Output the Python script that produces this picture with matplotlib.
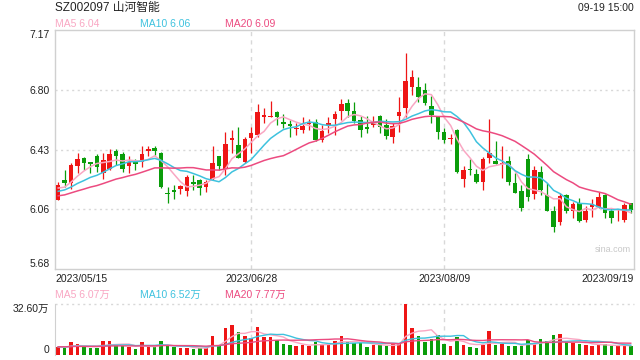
import numpy as np
import pandas as pd
import matplotlib
matplotlib.use("Agg")
import matplotlib.pyplot as plt

plt.rcParams['font.family'] = ['Liberation Sans', 'Noto Sans CJK SC']

title = "SZ002097 山河智能"
stamp = "09-19 15:00"
date_labels = ["2023/05/15", "2023/06/28", "2023/08/09", "2023/09/19"]
date_index = [0, 30, 60, 89]

price_ticks = ["5.68", "6.06", "6.43", "6.80", "7.17"]
vol_ticks = ["0", "32.60万"]
ma_labels = ["MA5 6.04", "MA10 6.06", "MA20 6.09"]
vol_ma_labels = ["MA5 6.07万", "MA10 6.52万", "MA20 7.77万"]

opens = [6.112, 6.235, 6.218, 6.324, 6.374, 6.347, 6.385, 6.281, 6.303, 6.416,
         6.397, 6.324, 6.351, 6.349, 6.418, 6.434, 6.401, 6.154, 6.173, 6.177,
         6.168, 6.222, 6.235, 6.193, 6.239, 6.385, 6.301, 6.486, 6.453, 6.349,
         6.497, 6.518, 6.628, 6.630, 6.661, 6.596, 6.584, 6.555, 6.547, 6.582,
         6.596, 6.484, 6.580, 6.613, 6.667, 6.717, 6.665, 6.609, 6.563, 6.580,
         6.632, 6.578, 6.505, 6.634, 6.682, 6.817, 6.813, 6.796, 6.696, 6.634,
         6.534, 6.493, 6.547, 6.239, 6.306, 6.272, 6.224, 6.374, 6.351, 6.335,
         6.351, 6.214, 6.166, 6.364, 6.146, 6.285, 6.141, 6.042, 5.975, 6.141,
         6.044, 6.094, 5.985, 6.064, 6.069, 6.141, 6.044, 5.995, 5.986, 6.089]
closes = [6.204, 6.218, 6.328, 6.366, 6.339, 6.337, 6.318, 6.360, 6.397, 6.385,
          6.306, 6.349, 6.335, 6.397, 6.430, 6.418, 6.193, 6.150, 6.162, 6.198,
          6.256, 6.212, 6.187, 6.220, 6.339, 6.322, 6.459, 6.497, 6.374, 6.490,
          6.528, 6.659, 6.638, 6.634, 6.626, 6.584, 6.574, 6.559, 6.572, 6.590,
          6.484, 6.540, 6.588, 6.646, 6.709, 6.667, 6.605, 6.547, 6.555, 6.590,
          6.567, 6.509, 6.574, 6.661, 6.852, 6.875, 6.754, 6.717, 6.638, 6.536,
          6.484, 6.499, 6.287, 6.297, 6.299, 6.224, 6.366, 6.401, 6.337, 6.343,
          6.224, 6.156, 6.058, 6.127, 6.297, 6.173, 6.044, 5.944, 6.135, 6.044,
          6.085, 5.981, 6.044, 6.085, 6.131, 6.031, 5.996, 5.999, 6.079, 6.048]
highs = [6.224, 6.297, 6.343, 6.405, 6.380, 6.347, 6.395, 6.405, 6.426, 6.426,
         6.411, 6.385, 6.364, 6.447, 6.447, 6.447, 6.411, 6.193, 6.202, 6.202,
         6.266, 6.266, 6.239, 6.235, 6.447, 6.385, 6.536, 6.547, 6.563, 6.505,
         6.567, 6.709, 6.686, 6.727, 6.667, 6.646, 6.609, 6.588, 6.626, 6.615,
         6.613, 6.578, 6.626, 6.667, 6.738, 6.738, 6.721, 6.634, 6.634, 6.634,
         6.640, 6.613, 6.592, 6.754, 7.029, 6.921, 6.879, 6.842, 6.759, 6.634,
         6.557, 6.522, 6.551, 6.322, 6.364, 6.301, 6.376, 6.615, 6.478, 6.447,
         6.385, 6.276, 6.204, 6.397, 6.322, 6.322, 6.214, 6.073, 6.152, 6.148,
         6.100, 6.121, 6.073, 6.114, 6.162, 6.148, 6.058, 6.052, 6.094, 6.094]
lows = [6.110, 6.193, 6.177, 6.276, 6.297, 6.276, 6.287, 6.239, 6.297, 6.328,
        6.287, 6.276, 6.297, 6.314, 6.385, 6.391, 6.183, 6.094, 6.114, 6.148,
        6.135, 6.173, 6.141, 6.162, 6.235, 6.297, 6.266, 6.401, 6.374, 6.343,
        6.405, 6.505, 6.588, 6.626, 6.578, 6.557, 6.505, 6.515, 6.526, 6.547,
        6.480, 6.474, 6.526, 6.515, 6.609, 6.630, 6.588, 6.505, 6.526, 6.563,
        6.530, 6.492, 6.468, 6.536, 6.630, 6.765, 6.723, 6.702, 6.588, 6.488,
        6.468, 6.459, 6.276, 6.193, 6.266, 6.214, 6.173, 6.343, 6.335, 6.245,
        6.204, 6.152, 6.044, 6.106, 6.114, 6.141, 6.044, 5.913, 5.954, 6.031,
        5.996, 5.975, 5.975, 6.006, 6.058, 5.996, 5.965, 5.981, 5.975, 6.027]
# volume in 万
volumes = [4.9, 4.3, 8.5, 7.0, 4.9, 4.7, 4.7, 8.9, 8.9, 6.4,
           5.8, 4.9, 3.8, 8.3, 4.9, 4.9, 8.9, 6.0, 4.9, 4.7,
           4.7, 3.8, 4.3, 4.3, 12.1, 5.8, 17.3, 19.2, 14.7, 12.1,
           11.1, 17.9, 11.7, 11.5, 9.4, 7.0, 6.4, 5.8, 6.4, 5.8,
           8.5, 6.4, 6.4, 8.9, 12.1, 8.3, 7.5, 7.9, 4.9, 6.4,
           6.4, 6.0, 7.0, 7.0, 32.6, 17.3, 12.1, 8.5, 10.2, 12.6,
           7.0, 5.8, 11.5, 6.4, 4.9, 4.7, 6.4, 15.3, 6.4, 7.0,
           5.8, 5.8, 5.8, 9.4, 7.0, 10.2, 8.9, 12.8, 13.4, 8.3,
           7.9, 7.0, 6.4, 5.8, 6.4, 6.8, 5.8, 5.5, 6.0, 5.6]

# days before 05/15, estimated so the moving averages start where they do
prior_closes = [6.10, 6.08, 6.12, 6.11, 6.09, 6.13, 6.10, 6.12, 6.11, 6.12,
                6.13, 6.15, 6.14, 6.16, 6.14, 6.19, 6.17, 6.18, 6.18]
prior_volumes = [5.2, 5.4, 5.0, 5.6, 5.3, 5.1, 5.5, 5.2, 5.4, 5.3,
                 5.0, 5.6, 5.2, 5.4, 5.1, 5.5, 5.3, 5.2, 5.4]

RED = "#ee1515"
GREEN = "#0a9d0a"
MA_COLORS = ["#f9a7c3", "#3ec2de", "#ec4b80"]
FRAME = "#d0d0d0"
GRID = "#d8d8d8"

n = len(closes)
x = np.arange(n)
o = np.array(opens)
c = np.array(closes)
up = c >= o
colors = [RED if u else GREEN for u in up]

cs = pd.Series(prior_closes + closes)
vs = pd.Series(prior_volumes + volumes)
k = len(prior_closes)

fig = plt.figure(figsize=(6.4, 3.6), dpi=100)
ax = fig.add_axes([55 / 640, 91 / 360, 579 / 640, 239 / 360])
vax = fig.add_axes([55 / 640, 5 / 360, 579 / 640, 51 / 360])

# price panel
ymin, ymax = 5.68, 7.17
ax.set_xlim(-0.5, n - 0.5)
ax.set_ylim(ymin, ymax)
levels = np.linspace(ymin, ymax, 5)
for lv in levels[1:-1]:
    ax.axhline(lv, color=GRID, lw=1, ls=(0, (1.5, 2.5)), zorder=0)
for di in date_index[1:3]:
    ax.axvline(di, color=GRID, lw=1, ls=(0, (3, 3)), zorder=0)
    vax.axvline(di, color=GRID, lw=1, ls=(0, (3, 3)), zorder=0)

ax.vlines(x, lows, highs, colors=colors, lw=0.9, zorder=2)
body = np.maximum(np.abs(c - o), 0.005)
ax.bar(x, body, bottom=np.minimum(o, c), width=0.7, color=colors, lw=0, zorder=3)

for w, col in zip([5, 10, 20], MA_COLORS):
    ma = cs.rolling(w).mean().values[k:]
    ax.plot(x, ma, color=col, lw=1.1, zorder=4)

ax.set_yticks(levels)
ax.set_yticklabels(price_ticks)
ax.set_xticks([])
ax.tick_params(axis='y', length=0, pad=4, labelsize=7.5, colors="#222222")
yl = ax.get_yticklabels()
yl[0].set_va('bottom')
yl[-1].set_va('top')
for s in ax.spines.values():
    s.set_color(FRAME)
    s.set_linewidth(1)

for lab, di in zip(date_labels, date_index):
    ha = 'center'
    if di == 0:
        ha = 'left'
    elif di == n - 1:
        ha = 'right'
    xx = di
    if ha == 'left':
        xx = -0.5
    elif ha == 'right':
        xx = n - 0.5
    ax.text(xx, -0.04, lab, transform=ax.get_xaxis_transform(), ha=ha, va='center',
            fontsize=7.5, color="#222222")

ax.text(0.995, 0.08, "sina.com", transform=ax.transAxes, ha='right', va='center',
        fontsize=6.5, color="#c8c8c8")

# header
fig.text(55 / 640, 1 - 8 / 360, title, ha='left', va='center', fontsize=8.5, color="#222222")
fig.text(634 / 640, 1 - 8 / 360, stamp, ha='right', va='center', fontsize=7.5, color="#222222")
for lab, px, col in zip(ma_labels, [55, 140, 225], MA_COLORS):
    fig.text(px / 640, 1 - 24 / 360, lab, ha='left', va='center', fontsize=7.5, color=col)
for lab, px, col in zip(vol_ma_labels, [55, 140, 225], MA_COLORS):
    fig.text(px / 640, 1 - 295 / 360, lab, ha='left', va='center', fontsize=7.5, color=col)

# volume panel
vmax = 32.6
vax.set_xlim(-0.5, n - 0.5)
vax.set_ylim(0, vmax)
vax.bar(x, volumes, width=0.55, color=colors, lw=0, zorder=2)
for w, col in zip([5, 10, 20], MA_COLORS):
    ma = vs.rolling(w).mean().values[k:]
    vax.plot(x, ma, color=col, lw=1.0, zorder=3)
vax.axhline(vmax, color=GRID, lw=1, ls=(0, (1.5, 2.5)), zorder=0, clip_on=False)
vax.set_yticks([0, vmax])
vax.set_yticklabels(vol_ticks)
vax.set_xticks([])
vax.tick_params(axis='y', length=0, pad=4, labelsize=7.5, colors="#222222")
vl = vax.get_yticklabels()
vl[0].set_va('bottom')
vl[-1].set_va('top')
for name in ['top', 'right', 'bottom']:
    vax.spines[name].set_visible(False)
vax.spines['left'].set_color(FRAME)

fig.savefig("out.png", dpi=100, facecolor="white")
